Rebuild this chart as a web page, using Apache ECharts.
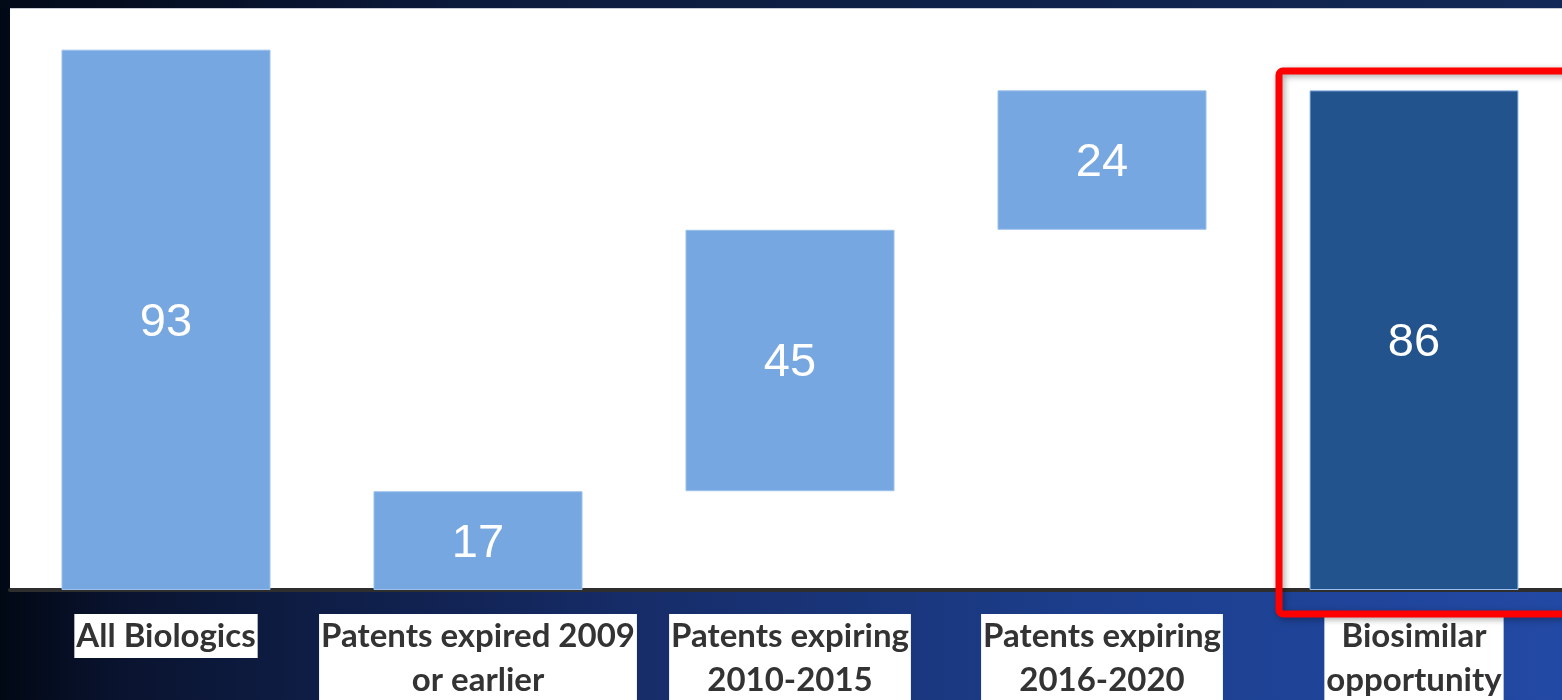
<!DOCTYPE html>
<html>
<head>
<meta charset="utf-8">
<script src="https://cdn.jsdelivr.net/npm/echarts@6/dist/echarts.min.js"></script>
<style>
  html, body { margin: 0; padding: 0; }
  #chart { width: 1562px; height: 700px; }
</style>
</head>
<body>
<div id="chart"></div>
<script>
// categories and values
const categories = [
  "All Biologics",
  "Patents expired 2009\nor earlier",
  "Patents expiring\n2010-2015",
  "Patents expiring\n2016-2020",
  "Biosimilar\nopportunity"
];
const baseValues = [0, 0, 17, 62, 0];   // invisible offset of each floating bar
const barValues = [93, 17, 45, 24, 86];

const chart = echarts.init(document.getElementById("chart"));

const option = {
  backgroundColor: {
    type: "linear", x: 0, y: 0, x2: 1, y2: 0,
    colorStops: [
      { offset: 0, color: "#010815" },
      { offset: 0.08, color: "#0a1430" },
      { offset: 0.4, color: "#162c68" },
      { offset: 0.7, color: "#1c3e8c" },
      { offset: 1, color: "#2249a4" }
    ]
  },
  animation: false,
  grid: {
    left: 10,
    top: 9,
    width: 1560,
    bottom: 110,
    outerBoundsMode: "none",
    containLabel: false,
    show: true,
    backgroundColor: "#ffffff",
    borderWidth: 0
  },
  xAxis: {
    type: "category",
    data: categories,
    axisTick: { show: false },
    axisLine: { lineStyle: { color: "#2e2e2e", width: 4 } },
    axisLabel: {
      margin: 24,
      interval: 0,
      color: "#333333",
      fontFamily: "Lato",
      fontWeight: "bold",
      fontSize: 33,
      lineHeight: 44,
      backgroundColor: "#ffffff",
      padding: [0, 2, 0, 2]
    }
  },
  yAxis: {
    type: "value",
    min: 0,
    max: 100,
    show: false,
    splitLine: { show: false }
  },
  series: [
    {
      name: "base",
      type: "bar",
      stack: "total",
      data: baseValues,
      itemStyle: { color: "transparent" },
      silent: true
    },
    {
      name: "count",
      type: "bar",
      stack: "total",
      barWidth: 209,
      data: barValues,
      itemStyle: {
        color: function (p) {
          return p.dataIndex === 4 ? "#22538c" : "#77a7e0";
        },
        borderColor: "#9cc0ec",
        borderWidth: 1
      },
      label: {
        show: true,
        position: "inside",
        offset: [0, 3],
        color: "#ffffff",
        fontFamily: "Liberation Sans",
        fontSize: 47
      }
    }
  ],
  graphic: [
    {
      // dark navy strip above the white panel
      type: "rect",
      shape: { x: 0, y: 0, width: 1562, height: 8 },
      style: {
        fill: {
          type: "linear", x: 0, y: 0, x2: 1, y2: 0,
          colorStops: [
            { offset: 0, color: "#020a18" },
            { offset: 0.3, color: "#0c1a3c" },
            { offset: 1, color: "#122856" }
          ]
        }
      },
      z: -1
    },
    {
      type: "rect",
      shape: { x: 10, y: 8, width: 1552, height: 1 },
      style: { fill: "#c8ccd6" },
      z: 0
    },
    {
      type: "rect",
      shape: { x: 1279, y: 71, width: 320, height: 543, r: 4 },
      style: {
        fill: "transparent",
        stroke: "#ff0000",
        lineWidth: 7,
        shadowBlur: 6,
        shadowColor: "rgba(0,0,0,0.35)",
        shadowOffsetX: 2,
        shadowOffsetY: 2
      },
      z: 100
    }
  ]
};

chart.setOption(option);
</script>
</body>
</html>
